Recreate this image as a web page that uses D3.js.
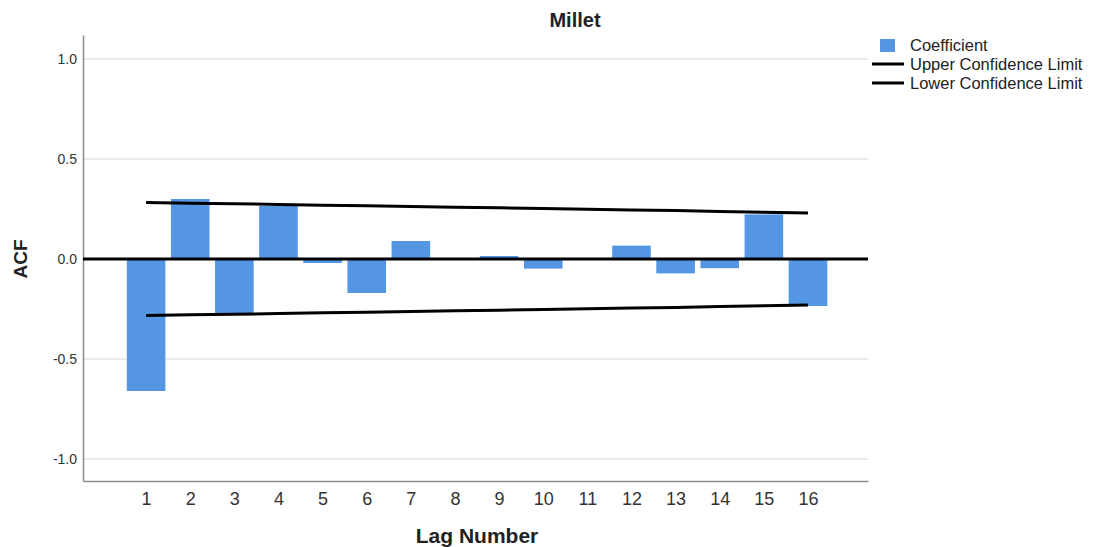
<!DOCTYPE html>
<html>
<head>
<meta charset="utf-8">
<script src="https://cdn.jsdelivr.net/npm/d3@7"></script>
<style>
  body { margin: 0; background: #fff; }
  text { font-family: "Liberation Sans", Arial, sans-serif; }
</style>
</head>
<body>
<div class="chart"></div>
<script>
const lags = [1, 2, 3, 4, 5, 6, 7, 8, 9, 10, 11, 12, 13, 14, 15, 16];
const coefficient = [-0.66, 0.30, -0.27, 0.265, -0.02, -0.17, 0.09, -0.004, 0.015, -0.048, 0.002, 0.067, -0.072, -0.046, 0.223, -0.235];
const upperLimit = [0.282, 0.279, 0.276, 0.273, 0.269, 0.266, 0.263, 0.259, 0.256, 0.252, 0.249, 0.245, 0.242, 0.238, 0.234, 0.230];
const lowerLimit = [-0.282, -0.279, -0.276, -0.273, -0.269, -0.266, -0.263, -0.259, -0.256, -0.252, -0.249, -0.245, -0.242, -0.238, -0.234, -0.230];
const yTicks = [-1.0, -0.5, 0.0, 0.5, 1.0];

const width = 1101, height = 547;
const margin = ({top: 35, right: 233, bottom: 66, left: 83});
const barColor = "#5596e4";

const svg = d3.select('.chart')
  .append('svg')
  .attr('width', width)
  .attr('height', height);

const x = d3.scaleLinear()
  .domain([-0.43, 17.36])
  .range([margin.left, width - margin.right]);

const y = d3.scaleLinear()
  .domain([-1.11, 1.12])
  .range([height - margin.bottom, margin.top]);

const barW = 38.6;

// grid
svg.append('g')
  .selectAll('line')
  .data(yTicks)
  .join('line')
  .attr('x1', margin.left)
  .attr('x2', width - margin.right)
  .attr('y1', d => y(d))
  .attr('y2', d => y(d))
  .attr('stroke', '#d6d6d6')
  .attr('stroke-width', 1);

// bars
const data = lags.map((d, i) => ({lag: d, v: coefficient[i]}));
svg.append('g')
  .selectAll('rect')
  .data(data)
  .join('rect')
  .attr('x', d => x(d.lag) - barW / 2)
  .attr('width', barW)
  .attr('y', d => y(Math.max(0, d.v)))
  .attr('height', d => Math.abs(y(d.v) - y(0)))
  .attr('fill', barColor);

// axes
const yAxis = d3.axisLeft(y)
  .tickValues(yTicks)
  .tickFormat(d => d.toFixed(1))
  .tickSize(0)
  .tickPadding(6);
const gy = svg.append('g')
  .attr('transform', `translate(${margin.left},0)`)
  .call(yAxis);
gy.select('.domain').attr('stroke', '#8a8a8a').attr('stroke-width', 1.5);
gy.selectAll('text').attr('font-size', 14).attr('fill', '#333')
  .attr('font-family', '"Liberation Sans", Arial, sans-serif');

const xAxis = d3.axisBottom(x)
  .tickValues(lags)
  .tickFormat(d3.format('d'))
  .tickSize(0)
  .tickPadding(11);
const gx = svg.append('g')
  .attr('transform', `translate(0,${height - margin.bottom})`)
  .call(xAxis);
gx.select('.domain').attr('stroke', '#8a8a8a').attr('stroke-width', 1.5);
gx.selectAll('text').attr('font-size', 18).attr('fill', '#333')
  .attr('font-family', '"Liberation Sans", Arial, sans-serif');

// zero line
svg.append('line')
  .attr('x1', margin.left)
  .attr('x2', width - margin.right)
  .attr('y1', y(0))
  .attr('y2', y(0))
  .attr('stroke', '#000')
  .attr('stroke-width', 3);

// confidence limits
const line = d3.line()
  .x(d => x(d[0]))
  .y(d => y(d[1]));
[upperLimit, lowerLimit].forEach(lim => {
  svg.append('path')
    .datum(lags.map((d, i) => [d, lim[i]]))
    .attr('d', line)
    .attr('fill', 'none')
    .attr('stroke', '#000')
    .attr('stroke-width', 3);
});

// titles
svg.append('text')
  .attr('x', 575)
  .attr('y', 27)
  .attr('text-anchor', 'middle')
  .attr('font-size', 20)
  .attr('font-weight', 'bold')
  .attr('fill', '#222')
  .text('Millet');

svg.append('text')
  .attr('x', 477)
  .attr('y', 543)
  .attr('text-anchor', 'middle')
  .attr('font-size', 21)
  .attr('font-weight', 'bold')
  .attr('fill', '#222')
  .text('Lag Number');

svg.append('text')
  .attr('transform', 'translate(27,259) rotate(-90)')
  .attr('text-anchor', 'middle')
  .attr('font-size', 19)
  .attr('font-weight', 'bold')
  .attr('fill', '#222')
  .text('ACF');

// legend
const legend = svg.append('g');
legend.append('rect')
  .attr('x', 880).attr('y', 39)
  .attr('width', 15).attr('height', 13)
  .attr('fill', barColor);
legend.append('text')
  .attr('x', 910).attr('y', 51)
  .attr('font-size', 16.5).attr('fill', '#222')
  .text('Coefficient');
[['Upper Confidence Limit', 64], ['Lower Confidence Limit', 83]].forEach(([t, ly]) => {
  legend.append('line')
    .attr('x1', 872).attr('x2', 904)
    .attr('y1', ly).attr('y2', ly)
    .attr('stroke', '#000').attr('stroke-width', 3);
  legend.append('text')
    .attr('x', 910).attr('y', ly + 6)
    .attr('font-size', 16.5).attr('fill', '#222')
    .text(t);
});
</script>
</body>
</html>
